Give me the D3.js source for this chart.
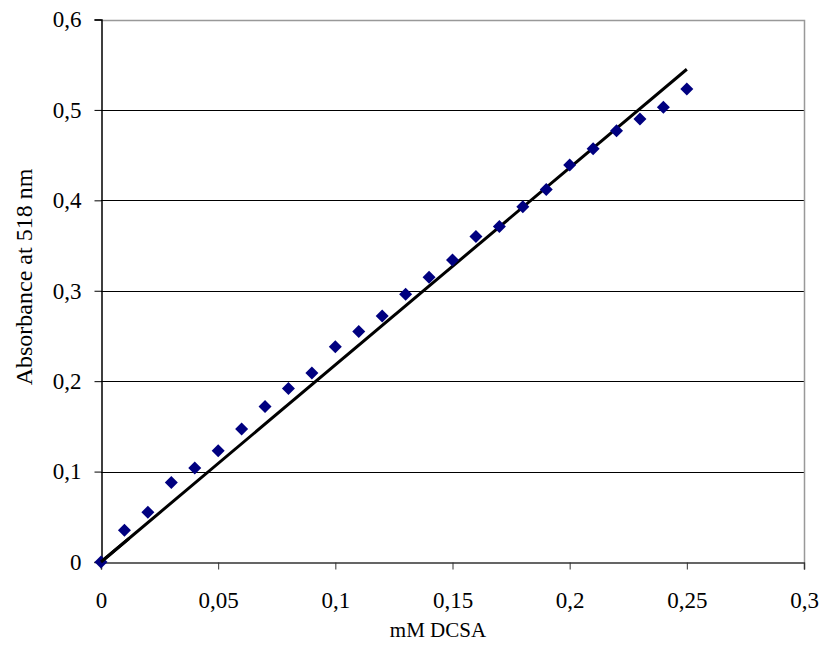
<!DOCTYPE html>
<html>
<head>
<meta charset="utf-8">
<script src="https://cdn.jsdelivr.net/npm/d3@7"></script>
<style>
  body { margin: 0; background: #fff; }
  svg text { font-family: "Liberation Serif", "Times New Roman", Times, "DejaVu Serif", serif !important; fill: #000; }
</style>
</head>
<body>
<div id="chart-container"></div>
<script>
// data
const concentration = [0, 0.01, 0.02, 0.03, 0.04, 0.05, 0.06, 0.07, 0.08, 0.09,
  0.1, 0.11, 0.12, 0.13, 0.14, 0.15, 0.16, 0.17, 0.18, 0.19,
  0.2, 0.21, 0.22, 0.23, 0.24, 0.25];
const absorbance = [0, 0.035, 0.055, 0.088, 0.104, 0.123, 0.147, 0.172, 0.192, 0.209,
  0.238, 0.255, 0.272, 0.296, 0.315, 0.334, 0.36, 0.371, 0.393, 0.412,
  0.439, 0.457, 0.477, 0.49, 0.503, 0.523];
const trendX = [0, 0.25];
const trendY = [0, 0.545];
const xTicks = [0, 0.05, 0.1, 0.15, 0.2, 0.25, 0.3];
const yTicks = [0, 0.1, 0.2, 0.3, 0.4, 0.5, 0.6];

const styling = {
  width: 826, height: 662,
  marginTop: 19.5, marginRight: 22, marginBottom: 100, marginLeft: 101
};
const { width, height, marginTop, marginRight, marginBottom, marginLeft } = styling;

const fmt = (d) => String(d).replace(".", ",");

const xScale = d3.scaleLinear()
  .domain([0, 0.3])
  .range([marginLeft, width - marginRight]);

const yScale = d3.scaleLinear()
  .domain([0, 0.6])
  .range([height - marginBottom, marginTop]);

const svg = d3.select("#chart-container")
  .append("svg")
  .attr("width", width)
  .attr("height", height);

// gridlines
svg.append("g")
  .selectAll("line")
  .data(yTicks.slice(1, -1))
  .enter()
  .append("line")
  .attr("x1", marginLeft)
  .attr("x2", width - marginRight)
  .attr("y1", (d) => Math.round(yScale(d)) + 0.5)
  .attr("y2", (d) => Math.round(yScale(d)) + 0.5)
  .attr("stroke", "#000")
  .attr("stroke-width", 1);

// plot area border top + right (grey)
svg.append("path")
  .attr("d", `M${marginLeft},${Math.round(marginTop) + 0.5}H${Math.round(width - marginRight) + 0.5}V${height - marginBottom}`)
  .attr("fill", "none")
  .attr("stroke", "#999")
  .attr("stroke-width", 1.5);

// x axis
const xAxis = svg.append("g")
  .attr("transform", `translate(0, ${Math.round(height - marginBottom) + 0.5})`)
  .call(d3.axisBottom(xScale).tickValues(xTicks).tickFormat(fmt).tickSize(7).tickPadding(22));
xAxis.select(".domain").attr("stroke", "#333").attr("stroke-width", 1.5);
xAxis.selectAll(".tick line").attr("stroke", "#333");
xAxis.selectAll("text").attr("font-size", 23);

// y axis
const yAxis = svg.append("g")
  .attr("transform", `translate(${Math.round(marginLeft) + 0.5}, 0)`)
  .call(d3.axisLeft(yScale).tickValues(yTicks).tickFormat(fmt).tickSize(7).tickPadding(13));
yAxis.select(".domain").attr("stroke", "#000").attr("stroke-width", 1.5);
yAxis.selectAll(".tick line").attr("stroke", "#000");
yAxis.selectAll("text").attr("font-size", 23);

// trend line
svg.append("line")
  .attr("x1", xScale(trendX[0]))
  .attr("y1", yScale(trendY[0]))
  .attr("x2", xScale(trendX[1]))
  .attr("y2", yScale(trendY[1]))
  .attr("stroke", "#000")
  .attr("stroke-width", 3);

// diamond markers
const r = 6.5;
svg.append("g")
  .selectAll("path")
  .data(concentration.map((c, i) => ({ x: c, y: absorbance[i] })))
  .enter()
  .append("path")
  .attr("transform", (d) => `translate(${xScale(d.x)},${yScale(d.y)})`)
  .attr("d", `M0,${-r}L${r},0L0,${r}L${-r},0Z`)
  .attr("fill", "#000080");

// redraw trend line start over first marker like the original
svg.append("line")
  .attr("x1", xScale(trendX[0]))
  .attr("y1", yScale(trendY[0]))
  .attr("x2", xScale(0.012))
  .attr("y2", yScale(trendY[1] * 0.012 / 0.25))
  .attr("stroke", "#000")
  .attr("stroke-width", 3);

// axis titles
svg.append("text")
  .attr("x", 438)
  .attr("y", 637)
  .attr("text-anchor", "middle")
  .attr("font-size", 21)
  .text("mM DCSA");

svg.append("text")
  .attr("transform", `translate(32, 277) rotate(-90)`)
  .attr("text-anchor", "middle")
  .attr("font-size", 24)
  .text("Absorbance at 518 nm");
</script>
</body>
</html>
